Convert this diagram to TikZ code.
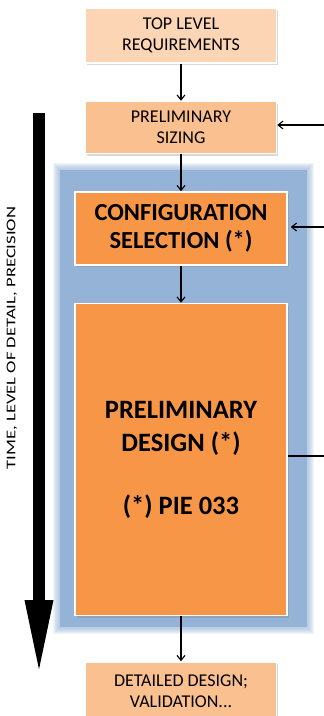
\documentclass[tikz,border=0pt]{standalone}
\usepackage{fontspec}
\setmainfont{Carlito}
\usetikzlibrary{positioning,arrows.meta,shadows}

\definecolor{peachlight}{HTML}{FCD5B5}
\definecolor{peach}{HTML}{FAC090}
\definecolor{orangedark}{HTML}{F79646}
\definecolor{bluebg}{HTML}{95B3D7}

\tikzset{
	stage/.style={draw=white, line width=1.5pt, align=center, inner sep=2pt,
		drop shadow={shadow xshift=1.5pt, shadow yshift=-2pt, opacity=.3}},
	smallstage/.style={stage, fill=peach, minimum width=191pt,
		font=\fontsize{18}{21}\selectfont},
	bigstage/.style={stage, fill=orangedark, minimum width=212pt,
		font=\bfseries\fontsize{24.5}{28.5}\selectfont},
	flow/.style={-{Straight Barb[length=5pt,width=8pt]}, line width=1.1pt}
}

\begin{document}
\begin{tikzpicture}[x=1pt, y=1pt, node distance=37pt]
	\useasboundingbox (0,0) rectangle (324,-716);

	% blue background with soft edge
	\foreach \d in {1,...,7}
		\fill[bluebg, opacity=.14] (60-\d,-170+\d) rectangle (307+\d,-627-\d);
	\fill[bluebg] (60,-170) rectangle (307,-627);

	\node[smallstage, fill=peachlight, minimum height=55pt] (top) at (181,-35.5) {TOP LEVEL\\REQUIREMENTS};
	\node[smallstage, minimum height=52pt] (sizing) [below=of top] {PRELIMINARY\\SIZING};
	\node[bigstage, minimum height=73pt] (config) [below=of sizing] {CONFIGURATION\\SELECTION (*)};
	\node[bigstage, minimum height=312pt, font=\bfseries\fontsize{26.5}{33}\selectfont] (design) [below=of config]
		{PRELIMINARY\\DESIGN (*)\\[30pt](*) PIE 033};
	\node[smallstage, minimum height=58pt] (detail) [below=45pt of design] {DETAILED DESIGN;\\VALIDATION...};

	\path[flow]
		(top) edge (sizing)
		(sizing) edge (config)
		(config) edge (design)
		(design) edge (detail);

	% inputs from the right
	\coordinate (in1) at (324,-125);
	\coordinate (in2) at (324,-227);
	\coordinate (out3) at (324,-456);
	\draw[flow] (in1) -- (in1 -| sizing.east);
	\draw[flow, shorten >=3pt] (in2) -- (in2 -| config.east);
	\draw[line width=1.1pt] (design.east |- out3) -- (out3);

	% time axis
	\coordinate (timetop) at (39,-113);
	\coordinate (timetip) at (39,-678);
	\draw[line width=12pt, -{Triangle[length=78pt,width=25pt]}] (timetop) -- (timetip);
	\node[rotate=90, font=\fontsize{13.3}{16}\selectfont] (timelbl) at (12,-338)
		{\scalebox{1.4}[1]{TIME, LEVEL OF DETAIL, PRECISION}};
\end{tikzpicture}
\end{document}
